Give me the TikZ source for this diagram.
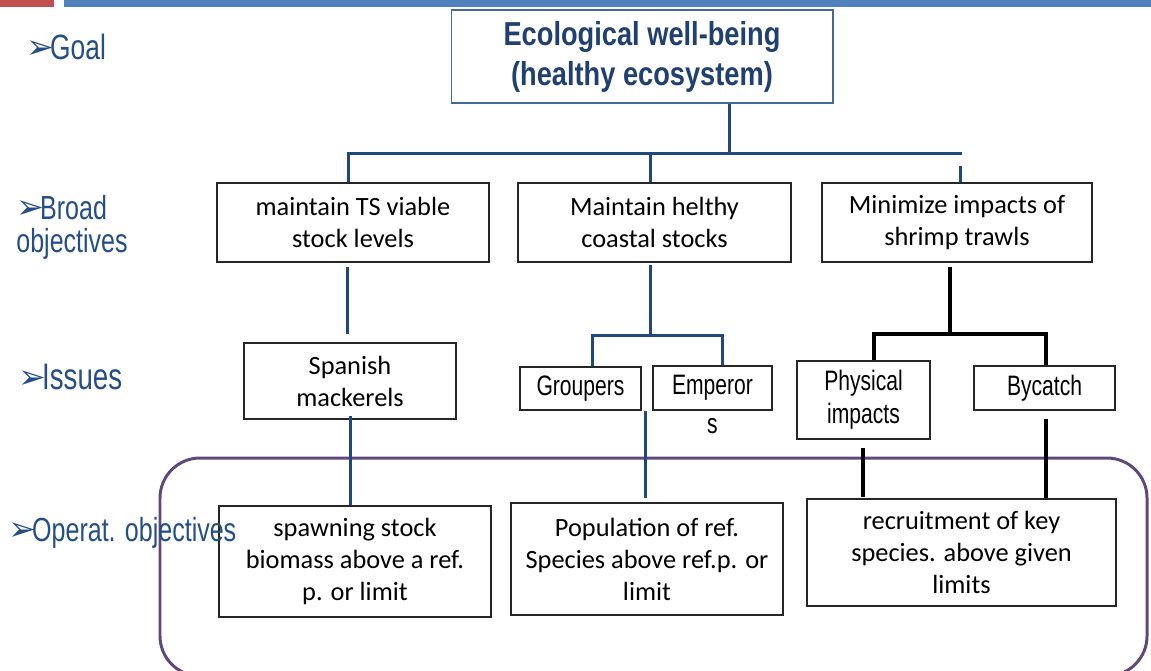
\documentclass[tikz,border=0pt]{standalone}
\usepackage{fontspec}
\setmainfont{Carlito}
\newfontfamily\narrow[FakeStretch=0.82]{Liberation Sans}
\newfontfamily\slim[FakeStretch=0.75]{Liberation Sans}
\newfontfamily\dingfont{DejaVu Sans}
\definecolor{barred}{RGB}{192,80,77}
\definecolor{barblue}{RGB}{79,129,189}
\definecolor{labblue}{RGB}{38,78,134}
\definecolor{titleblue}{RGB}{31,64,112}
\definecolor{goalframe}{RGB}{70,105,155}
\definecolor{conblue}{RGB}{31,73,125}
\definecolor{framepurple}{RGB}{96,73,122}
\newcommand{\bul}{\makebox[13pt][l]{\hspace*{-0.5pt}\raisebox{0.5pt}{\dingfont\fontsize{19}{20}\selectfont ➢}}}
\begin{document}
\begin{tikzpicture}[x=0.02cm,y=-0.02cm,
  box/.style={draw=black!85, line width=0.7pt, fill=white, align=center, inner sep=0pt, font=\fontsize{15}{18.2}\selectfont},
  nbox/.style={box, font=\slim\fontsize{16}{18.7}\selectfont},
  lab/.style={anchor=base west, inner sep=0pt, text=labblue, font=\slim\fontsize{19}{22}\selectfont},
  bl/.style={draw=conblue, line width=1.7pt},
  bk/.style={draw=black, line width=2.2pt},
  frame/.style={draw=framepurple, line width=1.7pt, rounded corners=0.8cm},
]
\useasboundingbox (0,0) rectangle (1151,670);
\clip (0,0) rectangle (1151,670);
% top bars
\fill[barred] (0,0) rectangle (54,7);
\fill[barblue] (64,0) rectangle (1151,7);
% purple frame
\draw[frame] (160,458) rectangle (1147,676);

% goal
\node[draw=goalframe, line width=0.6pt, minimum width=7.64cm, minimum height=1.86cm, inner sep=0pt, align=center,
  font=\narrow\bfseries\fontsize{18.9}{22.7}\selectfont, text=titleblue] (goal) at (642,56.5) {Ecological well-being\\(healthy ecosystem)};

% broad objectives
\node[box, minimum width=5.44cm, minimum height=1.58cm] (b1) at (353,222.5) {maintain TS viable\\stock levels};
\node[box, minimum width=5.46cm, minimum height=1.58cm] (b2) at (654.5,222.5) {Maintain helthy\\coastal stocks};
\node[box, minimum width=5.40cm, minimum height=1.58cm] (b3) at (957,222.5) {Minimize impacts of\\shrimp trawls};

% issues
\node[box, minimum width=4.24cm, minimum height=1.52cm] (sm) at (350,381) {Spanish\\mackerels};
\node[nbox, minimum width=2.42cm, minimum height=0.86cm] (gr) at (580.5,388.5) {Groupers};
\node[nbox, minimum width=2.38cm, minimum height=0.88cm,
  label={[inner sep=0pt, yshift=-4pt, font=\slim\fontsize{16}{18.7}\selectfont]below:s}] (em) at (712.5,388) {Emperor};
\node[nbox, minimum width=2.66cm, minimum height=1.56cm] (ph) at (863.5,400) {Physical\\impacts};
\node[nbox, minimum width=2.82cm, minimum height=0.88cm] (by) at (1044.5,388) {Bycatch};

% operational objectives
\node[box, minimum width=5.44cm, minimum height=2.22cm] (o1) at (355,561.5) {spawning stock\\biomass above a ref.\\p. or limit};
\node[box, minimum width=5.44cm, minimum height=2.24cm] (o2) at (647,559) {Population of ref.\\Species above ref.p. or\\limit};
\node[box, minimum width=6.18cm, minimum height=2.14cm] (o3) at (961.5,552.5) {recruitment of key\\species. above given\\limits};

% left labels (drawn over the frame and boxes)
\node[lab, font=\slim\fontsize{20}{22}\selectfont] (lgoal) at (27,59) {\bul Goal};
\node[lab] (lbroad) at (17,219) {\bul Broad};
\node[lab] (lobj) at (16,252) {objectives};
\node[lab, font=\slim\fontsize{21}{22}\selectfont] (liss) at (19,389) {\bul Issues};
\node[lab] (lop) at (9,541) {\bul Operat. objectives};

% junction coordinates
\coordinate (j0) at (729,153);
\coordinate (hl) at (348,153);
\coordinate (hm) at (650,153);
\coordinate (hr) at (962,153);
\coordinate (d3) at (960,166);
\coordinate (k1) at (347,335);
\coordinate (k2) at (350,416);
\coordinate (s2) at (650,335);
\coordinate (g2l) at (592,335);
\coordinate (g2r) at (722,335);
\coordinate (k3) at (645,498);
\coordinate (s3) at (950,334);
\coordinate (p3l) at (874,334);
\coordinate (p3r) at (1046,334);
\coordinate (k4) at (863,448);
\coordinate (k5) at (1046,419);

% connectors goal -> broad
\draw[bl] (j0 |- goal.south) -- (j0);
\draw[bl] (hl |- b1.north) -- (hl) -- (hr);
\draw[bl] (hm) -- (hm |- b2.north);
\draw[bl] (d3) -- (d3 |- b3.north);

% b1 -> sm -> o1
\draw[bl, shorten <=2.5pt, shorten >=4.5pt] (k1 |- b1.south) -- (k1 |- sm.north);
\draw[bl] (k2) -- (k2 |- o1.north);

% b2 -> groupers, emperors
\draw[bl, shorten <=1.5pt] (s2 |- b2.south) -- (s2);
\draw[bl] (g2l |- gr.north) -- (g2l) -- (g2r) -- (g2r |- em.north);
\draw[bl] (k3 |- gr.south) -- (k3);

% b3 -> physical, bycatch (black)
\draw[bk, shorten <=2.5pt] (s3 |- b3.south) -- (s3);
\draw[bk] (p3l |- ph.north) -- (p3l) -- (p3r) -- (p3r |- by.north);
\draw[bk, shorten >=1pt] (k4) -- (k4 |- o3.north);
\draw[bk] (k5) -- (k5 |- o3.north);
\end{tikzpicture}
\end{document}
